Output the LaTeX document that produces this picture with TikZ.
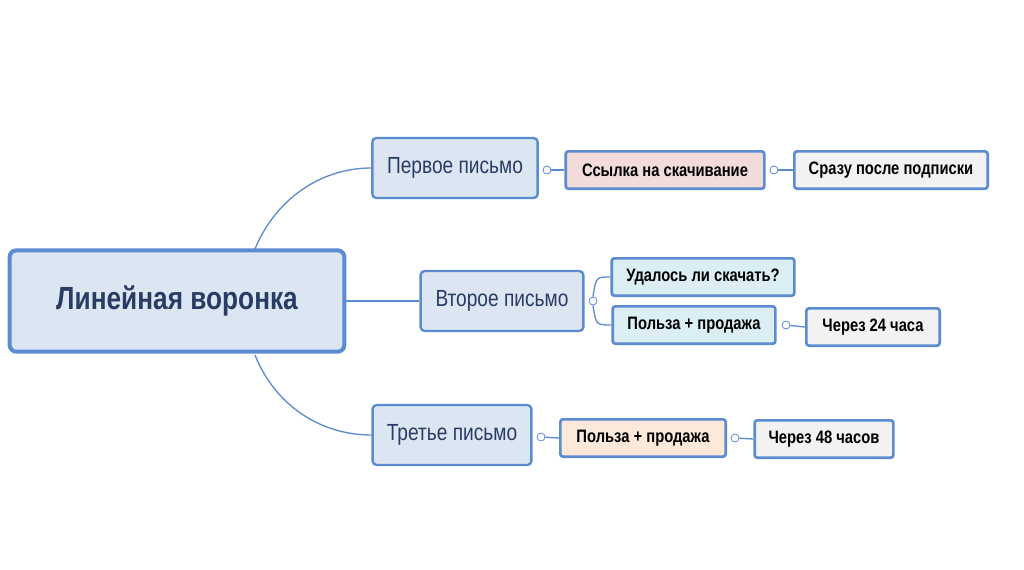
\documentclass[tikz,border=0pt]{standalone}
\usepackage{fontspec}
\setmainfont[FakeStretch=0.82]{Liberation Sans}
\definecolor{line color}{RGB}{91,139,208}
\definecolor{root fill}{RGB}{220,230,242}
\definecolor{text color}{RGB}{40,60,100}
\definecolor{link fill}{RGB}{242,220,219}
\definecolor{plain fill}{RGB}{242,242,242}
\definecolor{second fill}{RGB}{218,238,243}
\definecolor{third fill}{RGB}{253,233,217}

\begin{document}
\begin{tikzpicture}[x=0.75pt, y=-0.75pt, line color, line width=1pt,
    mailbox/.style={draw, line width=1.8pt, rounded corners=3pt, fill=root fill,
        text=text color, minimum height=45pt, font=\fontsize{17.5}{20}\selectfont},
    leafbox/.style={draw, line width=2pt, rounded corners=2pt, text=black,
        minimum height=28pt, font=\bfseries\fontsize{13.5}{16}\selectfont},
    knob/.style={draw, fill=white, circle, inner sep=0pt, minimum size=6pt, line width=0.6pt}]
	\useasboundingbox (0,0) rectangle (1024,569);

	\node (root) at (177,301) [draw, line width=3pt, rounded corners=5pt, fill=root fill,
	    minimum width=251pt, minimum height=76pt, text=text color,
	    font=\bfseries\fontsize{24}{28}\selectfont] {Линейная воронка};

	\node (first) at (455,168) [mailbox, minimum width=124pt] {Первое письмо};
	\node (second) at (502,301) [mailbox, minimum width=122pt] {Второе письмо};
	\node (third) at (452,435) [mailbox, minimum width=119pt] {Третье письмо};

	\node (link) at (665,170) [leafbox, fill=link fill, minimum width=149pt] {Ссылка на скачивание};
	\node (soon) at (891,170) [leafbox, fill=plain fill, minimum width=145pt] {Сразу после подписки};
	\node (asked) at (703,277) [leafbox, fill=second fill, minimum width=137pt] {Удалось ли скачать?};
	\node (useA) at (694,325) [leafbox, fill=second fill, minimum width=122pt] {Польза + продажа};
	\node (day) at (873,327) [leafbox, fill=plain fill, minimum width=100pt] {Через 24 часа};
	\node (useB) at (643,438) [leafbox, fill=third fill, minimum width=124pt] {Польза + продажа};
	\node (days) at (824,439) [leafbox, fill=plain fill, minimum width=104pt] {Через 48 часов};

	% branches from the root
	\coordinate (rn) at (255,249);
	\coordinate (rs) at (255,355);
	\draw (rn) .. controls (275,200) and (320,168) .. (first.west);
	\draw (root.east) -- (second.west);
	\draw (rs) .. controls (275,405) and (320,435) .. (third.west);

	% collapse knobs
	\node (k1) at (547,170) [knob] {};
	\node (k2) at (774,170) [knob] {};
	\node (k3) at (593,301) [knob] {};
	\node (k4) at (786,325) [knob] {};
	\node (k5) at (541,437) [knob] {};
	\node (k6) at (735,438) [knob] {};

	\draw (k1) -- (link.west);
	\draw (k2) -- (soon.west);
	\draw (k3.north) .. controls (596,277) .. (asked.west);
	\draw (k3.south) .. controls (596,325) .. (useA.west);
	\draw (k4) -- (day.west);
	\draw (k5) -- (useB.west);
	\draw (k6) -- (days.west);
\end{tikzpicture}
\end{document}
